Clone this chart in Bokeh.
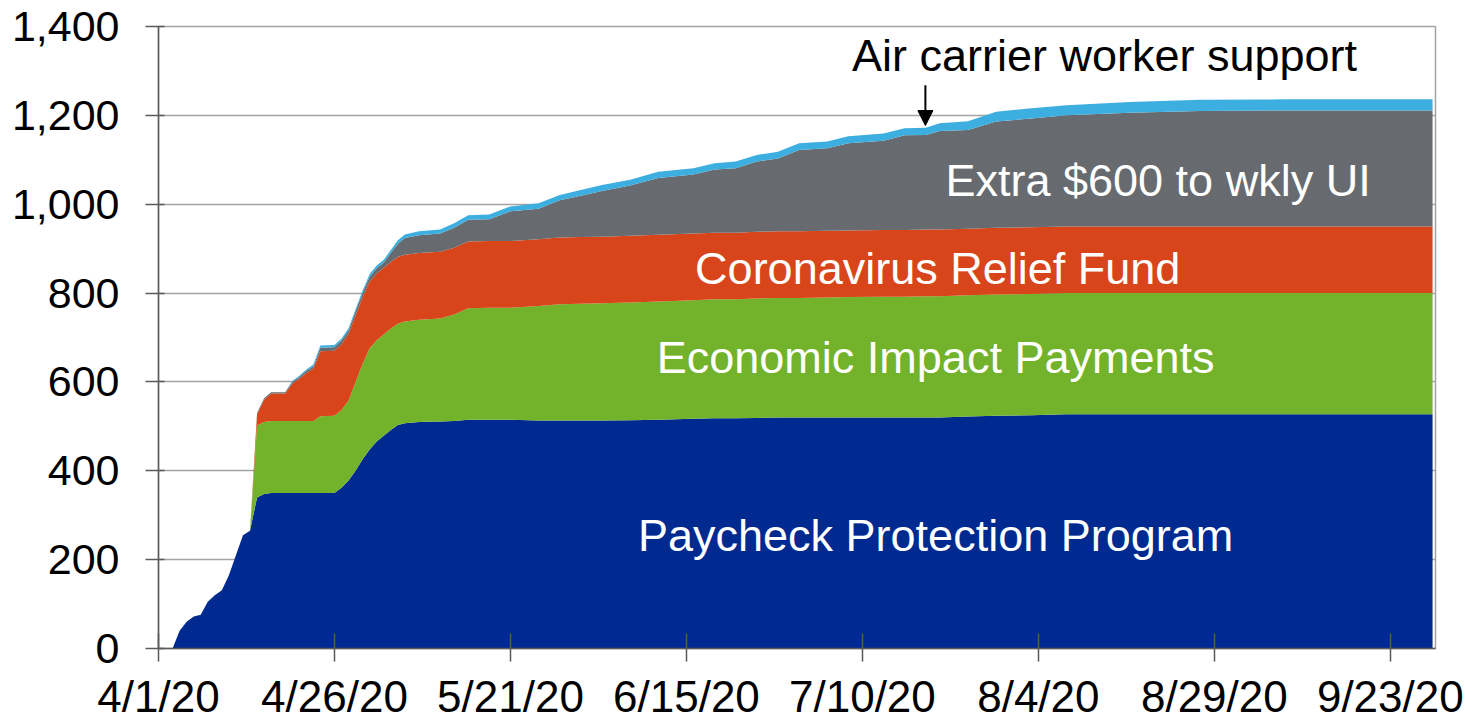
import pandas as pd
from bokeh.plotting import figure
from bokeh.models import (ColumnDataSource, Range1d, FixedTicker, NumeralTickFormatter,
                          Label, Arrow, NormalHead)
from bokeh.embed import file_html
from bokeh.resources import INLINE

# ---------------- data (US$ billions, cumulative outlays) ----------------
dates = ["2020-04-01", "2020-04-03", "2020-04-04", "2020-04-05", "2020-04-06", "2020-04-07",
         "2020-04-08", "2020-04-09", "2020-04-10", "2020-04-11", "2020-04-12", "2020-04-13",
         "2020-04-14", "2020-04-15", "2020-04-16", "2020-04-17", "2020-04-19", "2020-04-20",
         "2020-04-21", "2020-04-22", "2020-04-23", "2020-04-24", "2020-04-26", "2020-04-27",
         "2020-04-28", "2020-04-29", "2020-04-30", "2020-05-01", "2020-05-02", "2020-05-03",
         "2020-05-04", "2020-05-05", "2020-05-06", "2020-05-08", "2020-05-11", "2020-05-13",
         "2020-05-15", "2020-05-18", "2020-05-21", "2020-05-25", "2020-05-28", "2020-05-31",
         "2020-06-03", "2020-06-07", "2020-06-11", "2020-06-16", "2020-06-19", "2020-06-22",
         "2020-06-25", "2020-06-28", "2020-07-01", "2020-07-05", "2020-07-08", "2020-07-13",
         "2020-07-16", "2020-07-19", "2020-07-21", "2020-07-25", "2020-07-29", "2020-08-03",
         "2020-08-08", "2020-08-17", "2020-08-27", "2020-09-08", "2020-09-20", "2020-09-29"]

ppp = [0, 0, 40, 60, 72, 76,
       105, 120, 131, 165, 210, 255,
       265, 340, 348, 350, 350, 350,
       350, 350, 350, 350, 350, 362,
       378, 400, 426, 448, 466, 479,
       492, 503, 507, 510, 511, 512,
       515, 515, 515, 513, 513, 513,
       513, 514, 515, 517, 518, 518,
       519, 520, 520, 520, 520, 520,
       520, 520, 520, 522, 524, 525,
       527, 527, 527, 527, 527, 527]

eip = [0, 0, 0, 0, 0, 0,
       0, 0, 0, 0, 0, 0,
       0, 162, 162, 162, 162, 162,
       162, 162, 162, 173, 174, 175,
       180, 200, 215, 228, 228, 228,
       228, 228, 229, 230, 232, 240,
       251, 252, 252, 258, 262, 263,
       264, 265, 266, 267, 268, 268,
       269, 269, 269, 270, 271, 272,
       272, 273, 273, 273, 273, 273,
       273, 273, 273, 273, 273, 273]

crf = [0, 0, 0, 0, 0, 0,
       0, 0, 0, 0, 0, 0,
       0, 25, 50, 62, 62, 84,
       95, 108, 118, 146, 146, 148,
       150, 150, 150, 150, 150, 150,
       150, 150, 150, 150, 150, 150,
       150, 150, 150, 150, 150, 150,
       150, 150, 150, 150, 150, 150,
       150, 150, 150, 150, 150, 150,
       150, 150, 150, 150, 150, 150,
       150, 150, 150, 150, 150, 150]

ui = [0, 0, 0, 0, 0, 0,
      0, 0, 0, 0, 0, 0,
      0, 3, 3, 3, 3, 4,
      4, 5, 5, 8, 8, 8,
      8, 9, 10, 11, 12, 12,
      20, 30, 38, 40, 41, 45,
      49, 49, 67, 69, 84, 93,
      103, 113, 128, 133, 142, 145,
      158, 164, 183, 186, 196, 201,
      213, 213, 222, 222, 239, 245,
      250, 256, 260, 261, 261, 261]

air = [0, 0, 0, 0, 0, 0,
       0, 0, 0, 0, 0, 0,
       0, 0, 0, 0, 0, 2,
       3, 3, 4, 5, 5, 5,
       5, 5, 5, 6, 6, 6,
       7, 8, 8, 9, 9, 10,
       10, 11, 11, 12, 12, 13,
       13, 13, 14, 14, 14, 15,
       15, 15, 15, 15, 16, 16,
       16, 16, 17, 20, 22, 23,
       23, 24, 25, 25, 25, 25]

series_names = ["ppp", "eip", "crf", "ui", "air"]
series_colors = ["#002A8F", "#73B22B", "#D9451A", "#676B70", "#3DAEE0"]

y_ticks = [0, 200, 400, 600, 800, 1000, 1200, 1400]
x_tick_labels = ["4/1/20", "4/26/20", "5/21/20", "6/15/20", "7/10/20", "8/4/20", "8/29/20", "9/23/20"]
x_tick_dates = ["2020-04-01", "2020-04-26", "2020-05-21", "2020-06-15", "2020-07-10",
                "2020-08-04", "2020-08-29", "2020-09-23"]

# ---------------- figure ----------------
source = ColumnDataSource(dict(date=pd.to_datetime(dates), ppp=ppp, eip=eip, crf=crf, ui=ui, air=air))

x0 = pd.Timestamp("2020-04-01")
x1 = pd.Timestamp("2020-09-29 10:00")

p = figure(width=1472, height=723, x_axis_type="datetime",
           x_range=Range1d(x0, x1), y_range=Range1d(0, 1400),
           output_backend="svg", toolbar_location=None,
           min_border_left=158, min_border_top=26, min_border_right=37, min_border_bottom=73)

p.varea_stack(stackers=series_names, x="date", color=series_colors, source=source)

FONT = "Liberation Sans"

# grid & outline
p.xgrid.visible = False
p.ygrid.grid_line_color = "#A3A3A3"
p.ygrid.grid_line_width = 1.5
p.outline_line_color = "#A3A3A3"
p.outline_line_width = 1.5
p.background_fill_color = "white"
p.border_fill_color = "white"

# y axis
p.yaxis.ticker = FixedTicker(ticks=y_ticks)
p.yaxis.formatter = NumeralTickFormatter(format="0,0")
p.yaxis.major_label_text_font = FONT
p.yaxis.major_label_text_font_size = "43px"
p.yaxis.major_label_text_color = "black"
p.yaxis.major_tick_out = 13
p.yaxis.major_tick_in = 6
p.yaxis.minor_tick_line_color = None
p.yaxis.axis_line_color = "#5A5A5A"
p.yaxis.axis_line_width = 1.5
p.yaxis.major_tick_line_color = "#5A5A5A"
p.yaxis.major_tick_line_width = 1.5
p.yaxis.major_label_standoff = 26

# x axis
tick_ms = [int(pd.Timestamp(d).value // 10**6) for d in x_tick_dates]
p.xaxis.ticker = FixedTicker(ticks=tick_ms)
p.xaxis.major_label_overrides = {t: lab for t, lab in zip(tick_ms, x_tick_labels)}
p.xaxis.major_label_text_font = FONT
p.xaxis.major_label_text_font_size = "44px"
p.xaxis.major_label_text_color = "black"
p.xaxis.major_tick_out = 13
p.xaxis.major_tick_in = 15
p.xaxis.minor_tick_line_color = None
p.xaxis.axis_line_color = "#5A5A5A"
p.xaxis.axis_line_width = 1.5
p.xaxis.major_tick_line_color = "#5A5A5A"
p.xaxis.major_tick_line_width = 1.5
p.xaxis.major_label_standoff = 10


def day(d):
    return x0 + pd.Timedelta(days=d)


labels = [
    ("Air carrier worker support", 134.4, 1335, "black"),
    ("Extra $600 to wkly UI", 142.0, 1053, "white"),
    ("Coronavirus Relief Fund", 110.7, 855, "white"),
    ("Economic Impact Payments", 110.4, 655, "white"),
    ("Paycheck Protection Program", 110.4, 254, "white"),
]
for text, dx, yy, col in labels:
    p.add_layout(Label(x=day(dx), y=yy, text=text, text_align="center",
                       text_baseline="alphabetic", text_font=FONT,
                       text_font_size="45px", text_color=col))

p.add_layout(Arrow(end=NormalHead(size=15, fill_color="black", line_color="black"),
                   x_start=day(108.95), y_start=1268, x_end=day(108.95), y_end=1177,
                   line_color="black", line_width=2))

open("out.html", "w").write(file_html(p, INLINE))
